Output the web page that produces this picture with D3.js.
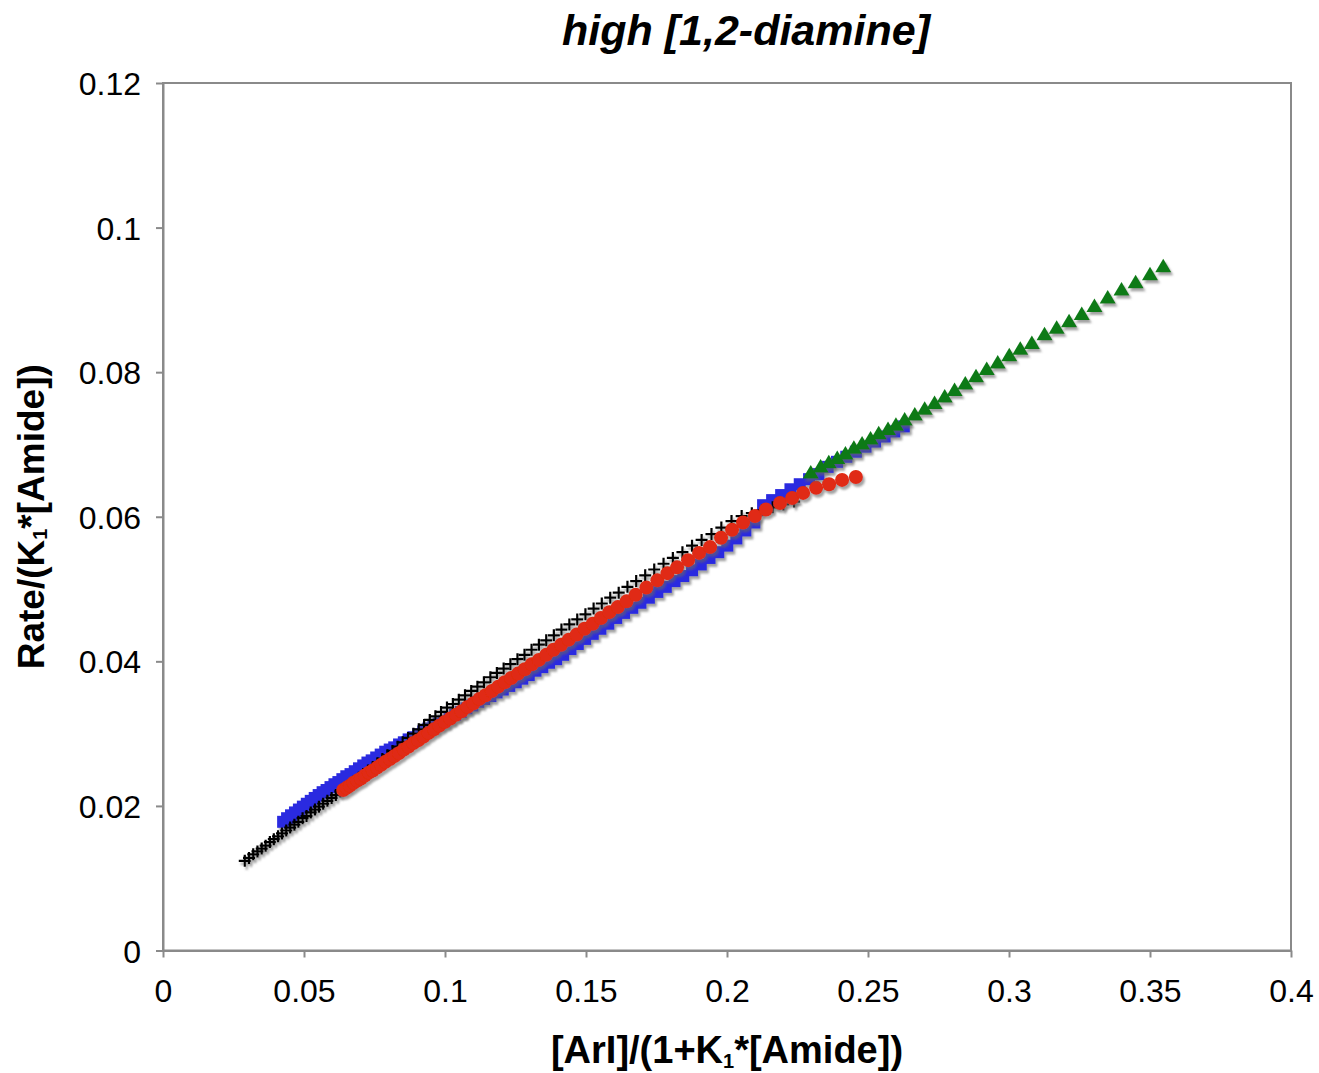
<!DOCTYPE html>
<html>
<head>
<meta charset="utf-8">
<script src="https://cdn.jsdelivr.net/npm/d3@7"></script>
<style>
body { margin: 0; background: #fff; }
</style>
</head>
<body>
<div id="chart"></div>
<script>
// axis ticks
var xTicks = [0, 0.05, 0.1, 0.15, 0.2, 0.25, 0.3, 0.35, 0.4];
var yTicks = [0, 0.02, 0.04, 0.06, 0.08, 0.1, 0.12];

// black crosses
var blackX = [0.029,0.0305,0.032,0.0335,0.035,0.0364,0.0379,0.0393,0.0408,0.0422,0.0437,0.0451,0.0466,0.048,0.0495,0.0509,0.0524,0.0539,0.0553,0.0568,0.0583,0.0598,0.0613,0.0629,0.0645,0.0661,0.0677,0.0694,0.071,0.0727,0.0744,0.0761,0.0778,0.0796,0.0814,0.0832,0.085,0.0869,0.0888,0.0907,0.0926,0.0946,0.0966,0.0986,0.1007,0.1028,0.1049,0.1071,0.1093,0.1115,0.1138,0.1161,0.1184,0.1208,0.1232,0.1257,0.1282,0.1307,0.1333,0.1359,0.1386,0.1413,0.1441,0.1469,0.1498,0.1527,0.1556,0.1586,0.1616,0.1647,0.1678,0.171,0.1742,0.1775,0.1808,0.1842,0.1876,0.191,0.1945,0.198,0.2016,0.2052,0.2088,0.2125,0.2162,0.22,0.2238];
var blackY = [0.0124,0.0128,0.0133,0.0137,0.0141,0.0145,0.0150,0.0154,0.0158,0.0162,0.0166,0.0170,0.0174,0.0178,0.0183,0.0186,0.0191,0.0195,0.0199,0.0203,0.0207,0.0211,0.0215,0.0220,0.0225,0.0229,0.0234,0.0239,0.0244,0.0249,0.0254,0.0259,0.0265,0.0270,0.0276,0.0282,0.0288,0.0294,0.0300,0.0306,0.0312,0.0319,0.0324,0.0330,0.0336,0.0341,0.0347,0.0353,0.0359,0.0365,0.0371,0.0378,0.0384,0.0390,0.0396,0.0403,0.0409,0.0416,0.0423,0.0429,0.0436,0.0444,0.0451,0.0458,0.0465,0.0473,0.0480,0.0488,0.0495,0.0503,0.0511,0.0519,0.0527,0.0535,0.0543,0.0551,0.0560,0.0568,0.0576,0.0585,0.0594,0.0601,0.0605,0.0609,0.0613,0.0617,0.0621];

// blue squares
var blueX = [0.0426,0.0440,0.0454,0.0468,0.0482,0.0496,0.0510,0.0524,0.0538,0.0552,0.0566,0.0580,0.0594,0.0608,0.0622,0.0636,0.0650,0.0665,0.0680,0.0695,0.0710,0.0725,0.0740,0.0756,0.0772,0.0788,0.0804,0.0820,0.0837,0.0854,0.0871,0.0888,0.0905,0.0923,0.0941,0.0959,0.0978,0.0997,0.1016,0.1036,0.1056,0.1076,0.1097,0.1118,0.1139,0.1161,0.1183,0.1205,0.1228,0.1251,0.1274,0.1297,0.1321,0.1345,0.1369,0.1394,0.1419,0.1445,0.1471,0.1497,0.1524,0.1551,0.1579,0.1607,0.1635,0.1664,0.1693,0.1723,0.1753,0.1783,0.1814,0.1845,0.1876,0.1907,0.1938,0.1969,0.2001,0.2033,0.2065,0.2097,0.2128,0.2160,0.2192,0.2225,0.2258,0.2291,0.2324,0.2357,0.2390,0.2423,0.2457,0.2491,0.2525,0.2559,0.2593,0.2627];
var blueY = [0.0178,0.0183,0.0187,0.0191,0.0195,0.0199,0.0203,0.0207,0.0211,0.0215,0.0219,0.0222,0.0226,0.0230,0.0233,0.0237,0.0241,0.0244,0.0248,0.0252,0.0256,0.0260,0.0263,0.0267,0.0271,0.0275,0.0278,0.0281,0.0285,0.0288,0.0292,0.0295,0.0299,0.0303,0.0307,0.0310,0.0314,0.0317,0.0322,0.0326,0.0330,0.0335,0.0339,0.0344,0.0348,0.0352,0.0357,0.0361,0.0366,0.0371,0.0376,0.0381,0.0387,0.0392,0.0398,0.0403,0.0409,0.0417,0.0424,0.0431,0.0438,0.0445,0.0452,0.0460,0.0467,0.0474,0.0481,0.0488,0.0496,0.0503,0.0511,0.0518,0.0526,0.0534,0.0543,0.0551,0.0560,0.0570,0.0581,0.0592,0.0616,0.0623,0.0630,0.0638,0.0645,0.0652,0.0659,0.0669,0.0676,0.0683,0.0690,0.0697,0.0704,0.0711,0.0718,0.0725];

// red circles
var redX = [0.0639,0.0651,0.0663,0.0676,0.0689,0.0702,0.0716,0.073,0.0744,0.0759,0.0774,0.0789,0.0805,0.0821,0.0837,0.0854,0.0871,0.0888,0.0906,0.0924,0.0942,0.0961,0.098,0.0999,0.1019,0.1039,0.1059,0.108,0.1101,0.1122,0.1144,0.1166,0.1189,0.1212,0.1235,0.1259,0.1283,0.1308,0.1333,0.1359,0.1385,0.1412,0.1439,0.1467,0.1495,0.1524,0.1553,0.1583,0.1613,0.1644,0.1676,0.1714,0.1753,0.1789,0.1823,0.1862,0.1901,0.194,0.1979,0.2018,0.2057,0.2099,0.2138,0.2188,0.2231,0.227,0.2316,0.2362,0.2408,0.2457];
var redY = [0.0222,0.0225,0.0228,0.0232,0.0235,0.0238,0.0242,0.0246,0.0249,0.0253,0.0257,0.0261,0.0265,0.0269,0.0273,0.0278,0.0282,0.0287,0.0291,0.0296,0.0301,0.0306,0.0311,0.0316,0.0321,0.0326,0.0331,0.0337,0.0342,0.0348,0.0353,0.0359,0.0365,0.0371,0.0377,0.0383,0.0389,0.0396,0.0402,0.0409,0.0416,0.0423,0.0430,0.0437,0.0445,0.0452,0.0460,0.0468,0.0475,0.0483,0.0492,0.0502,0.0512,0.0522,0.0530,0.0540,0.0550,0.0558,0.0571,0.0582,0.0592,0.0601,0.0610,0.0619,0.0626,0.0633,0.0640,0.0645,0.0651,0.0655];

// green triangles
var greenX = [0.2297,0.2332,0.2361,0.2391,0.2420,0.2450,0.2479,0.2509,0.2538,0.2571,0.2599,0.2630,0.2666,0.2701,0.2736,0.2772,0.2807,0.2845,0.2883,0.2921,0.2960,0.3001,0.3040,0.3081,0.3126,0.3169,0.3213,0.3258,0.3303,0.3350,0.3399,0.3449,0.3500,0.3547];
var greenY = [0.0660,0.0668,0.0674,0.0680,0.0686,0.0694,0.0700,0.0707,0.0714,0.0720,0.0726,0.0733,0.0740,0.0748,0.0756,0.0765,0.0774,0.0783,0.0793,0.0803,0.0812,0.0822,0.0831,0.0839,0.0851,0.0860,0.0869,0.0879,0.0890,0.0902,0.0913,0.0923,0.0934,0.0945];

var width = 1319, height = 1073;
var plotLeft = 163, plotTop = 83, plotRight = 1291, plotBottom = 950.5;
var font = "'Liberation Sans', Arial, Helvetica, sans-serif";
var axisColor = "#8a8a8a";

var svg = d3.select("#chart").append("svg")
    .attr("width", width)
    .attr("height", height)
    .style("font-family", font);

var defs = svg.append("defs");
var shadow = defs.append("filter").attr("id", "shadow")
    .attr("x", "-10%").attr("y", "-10%").attr("width", "120%").attr("height", "120%");
shadow.append("feDropShadow")
    .attr("dx", 2).attr("dy", 3)
    .attr("stdDeviation", 1.3)
    .attr("flood-color", "#666")
    .attr("flood-opacity", 0.6);

var x = d3.scaleLinear().domain([0, 0.4]).range([plotLeft, plotRight]);
var y = d3.scaleLinear().domain([0, 0.12]).range([plotBottom, plotTop]);

// frame
svg.append("rect")
    .attr("x", plotLeft).attr("y", plotTop)
    .attr("width", plotRight - plotLeft).attr("height", plotBottom - plotTop)
    .attr("fill", "none")
    .attr("stroke", axisColor)
    .attr("stroke-width", 2);

var fmt = function (d) { return d === 0 ? "0" : String(d); };

var xAxis = svg.append("g")
    .attr("transform", "translate(0," + plotBottom + ")")
    .call(d3.axisBottom(x).tickValues(xTicks).tickSize(7).tickSizeOuter(0).tickFormat(fmt));

var yAxis = svg.append("g")
    .attr("transform", "translate(" + plotLeft + ",0)")
    .call(d3.axisLeft(y).tickValues(yTicks).tickSize(7).tickSizeOuter(0).tickFormat(fmt));

[xAxis, yAxis].forEach(function (g) {
    g.select(".domain").attr("stroke", axisColor).attr("stroke-width", 2);
    g.selectAll(".tick line").attr("stroke", axisColor).attr("stroke-width", 2);
    g.selectAll(".tick text")
        .attr("fill", "#000")
        .style("font-family", font)
        .style("font-size", "32px");
});
xAxis.selectAll(".tick text").attr("y", 29).attr("dy", "0.71em");
yAxis.selectAll(".tick text").attr("x", -22).attr("dy", "0.36em");

// series
function pts(xs, ys) {
    return d3.zip(xs, ys).map(function (p) { return { x: p[0], y: p[1] }; });
}

var blueG = svg.append("g").attr("filter", "url(#shadow)");
blueG.selectAll("rect")
    .data(pts(blueX, blueY))
    .enter()
    .append("rect")
    .attr("x", function (d) { return x(d.x) - 6; })
    .attr("y", function (d) { return y(d.y) - 6; })
    .attr("width", 12)
    .attr("height", 12)
    .attr("fill", "#2b2be0");

var blackG = svg.append("g").attr("filter", "url(#shadow)");
blackG.selectAll("path")
    .data(pts(blackX, blackY))
    .enter()
    .append("path")
    .attr("transform", function (d) { return "translate(" + x(d.x) + "," + y(d.y) + ")"; })
    .attr("d", "M-6,0H6M0,-6V6")
    .attr("stroke", "#000")
    .attr("stroke-width", 2.2)
    .attr("fill", "none");

var redG = svg.append("g").attr("filter", "url(#shadow)");
redG.selectAll("circle")
    .data(pts(redX, redY))
    .enter()
    .append("circle")
    .attr("cx", function (d) { return x(d.x); })
    .attr("cy", function (d) { return y(d.y); })
    .attr("r", 7)
    .attr("fill", "#e02a12");

var greenG = svg.append("g").attr("filter", "url(#shadow)");
greenG.selectAll("path")
    .data(pts(greenX, greenY))
    .enter()
    .append("path")
    .attr("transform", function (d) { return "translate(" + x(d.x) + "," + y(d.y) + ")"; })
    .attr("d", "M0,-8.5L8,5H-8Z")
    .attr("fill", "#0b7a17");

// title
svg.append("text")
    .attr("x", 746)
    .attr("y", 45)
    .attr("text-anchor", "middle")
    .style("font-size", "43px")
    .style("font-weight", "bold")
    .style("font-style", "italic")
    .text("high [1,2-diamine]");

// x axis label
var xl = svg.append("text")
    .attr("x", (plotLeft + plotRight) / 2)
    .attr("y", 1063)
    .attr("text-anchor", "middle")
    .style("font-size", "38px")
    .style("font-weight", "bold");
xl.append("tspan").text("[ArI]/(1+K");
xl.append("tspan").attr("dy", 5).style("font-size", "20px").text("1");
xl.append("tspan").attr("dy", -5).text("*[Amide])");

// y axis label
var yl = svg.append("text")
    .attr("transform", "translate(44," + ((plotTop + plotBottom) / 2) + ") rotate(-90)")
    .attr("text-anchor", "middle")
    .style("font-size", "37px")
    .style("font-weight", "bold");
yl.append("tspan").text("Rate/(K");
yl.append("tspan").attr("dy", 3).style("font-size", "20px").text("1");
yl.append("tspan").attr("dy", -3).text("*[Amide])");
</script>
</body>
</html>
